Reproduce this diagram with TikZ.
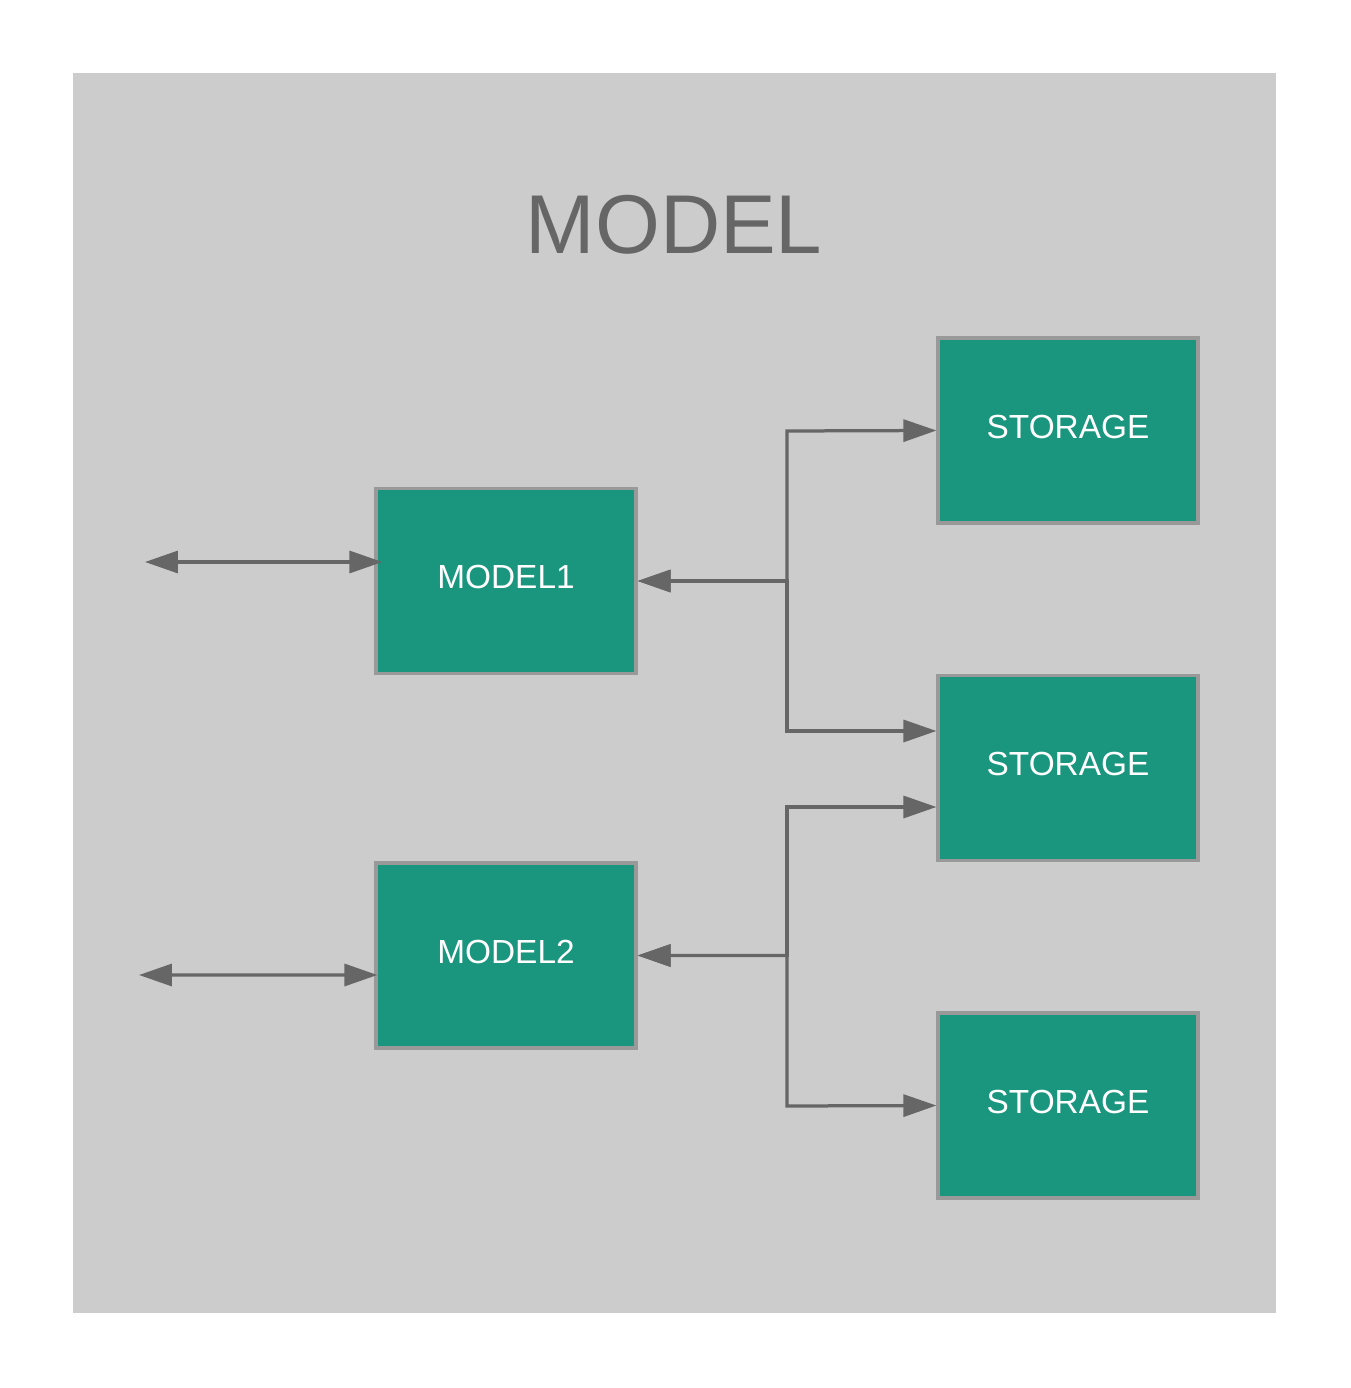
\documentclass[tikz,border=0pt]{standalone}
\usepackage{fontspec}
\setmainfont{Liberation Sans}
\usetikzlibrary{calc}
\usetikzlibrary{arrows.meta}

\definecolor{panelgray}{HTML}{CCCCCC}
\definecolor{boxgreen}{HTML}{1A967E}
\definecolor{edgegray}{HTML}{999999}
\definecolor{linegray}{HTML}{666666}

\begin{document}
\begin{tikzpicture}[x=0.02cm, y=-0.02cm]
    \tikzstyle{block}=[draw=edgegray, line width=0.065cm, fill=boxgreen,
      text=white, font=\fontsize{19}{23}\selectfont, text depth=0.16cm,
      minimum width=5.2cm, minimum height=3.7cm, inner sep=0pt]
    \tikzstyle{link}=[draw=linegray, line width=0.065cm,
      {Triangle[length=0.66cm,width=0.44cm]}-{Triangle[length=0.66cm,width=0.44cm]}]

    \useasboundingbox (0,0) rectangle (1350,1388);
    \fill[panelgray] (73,73) rectangle (1276,1313);

    % Title
    \node[text=linegray, font=\fontsize{47.5}{56}\selectfont] (title) at (674,225) {MODEL};

    % Models
    \node[block] (m1) at (506,581) {MODEL1};
    \node[block] (m2) at (506,955.5) {MODEL2};

    % Storages
    \node[block] (s1) at (1068,430.5) {STORAGE};
    \node[block] (s2) at (1068,768) {STORAGE};
    \node[block] (s3) at (1068,1105.5) {STORAGE};

    % Outside ends
    \coordinate (in1) at (145,562);
    \coordinate (in2) at (139,975);
    \draw[link] (in1) -- ($(m1.west)+(8,-19)$);
    \draw[link] (in2) -- ($(m2.west)+(3,19.5)$);

    % Model 1 to storages
    \draw[link] (m1.east) -| (787,431) -- (s1.west);
    \draw[link] (m1.east) -| (787,731) -- ($(s2.west)+(0,-37)$);

    % Model 2 to storages
    \draw[link] (m2.east) -| (787,807) -- ($(s2.west)+(0,39)$);
    \draw[link] (m2.east) -| (787,1106) -- (s3.west);
\end{tikzpicture}
\end{document}
